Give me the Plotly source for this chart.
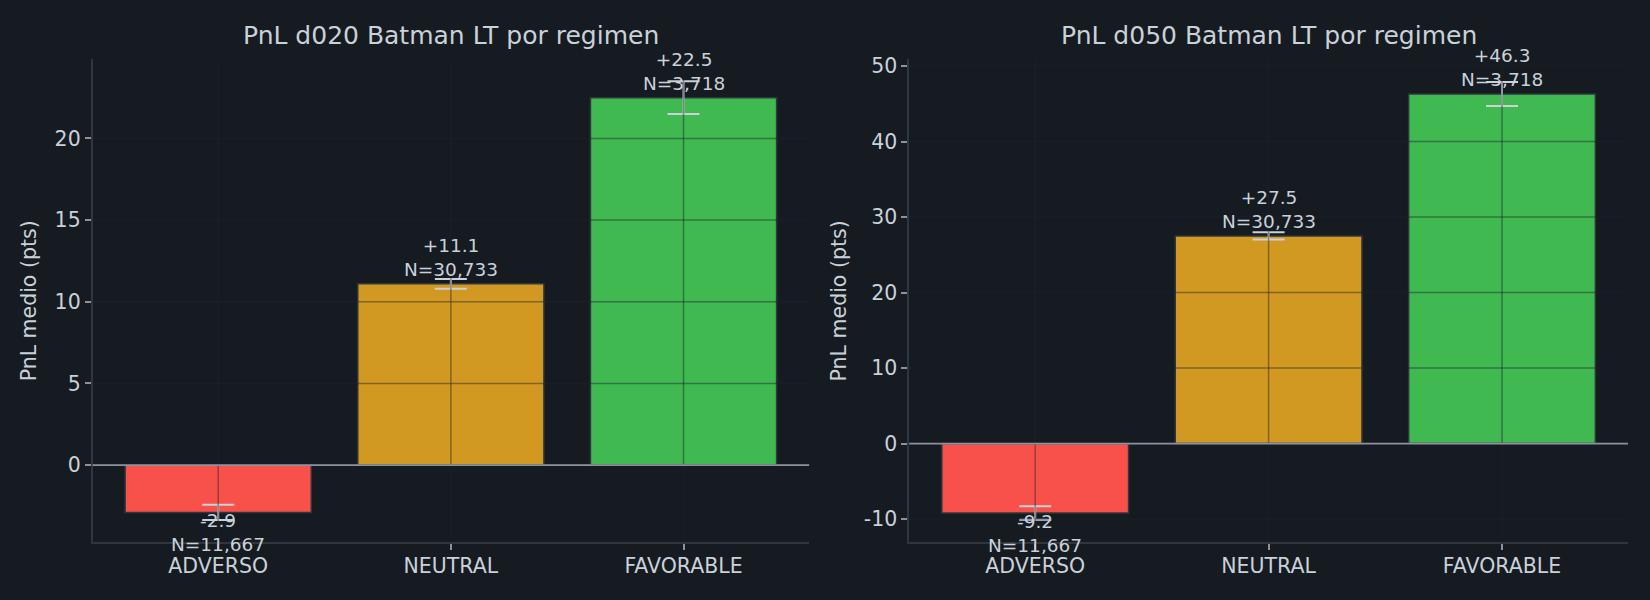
import plotly.graph_objects as go

# data
regimes = ["ADVERSO", "NEUTRAL", "FAVORABLE"]
n_trades = [11667, 30733, 3718]
pnl_d020 = [-2.9, 11.1, 22.5]
err_d020 = [0.47, 0.3, 1.0]
pnl_d050 = [-9.2, 27.5, 46.3]
err_d050 = [0.9, 0.48, 1.6]

titles = ["PnL d020 Batman LT por regimen", "PnL d050 Batman LT por regimen"]
yticks_d020 = [0, 5, 10, 15, 20]
yticks_d050 = [-10, 0, 10, 20, 30, 40, 50]

BG = "#161b22"
TXT = "#c9d1d9"
SPINE = "#30363d"
GRID = "rgba(30,35,42,0.45)"
bar_colors = ["#f85149", "#d29922", "#3fb950"]
FONT = "DejaVu Sans"

fig = go.Figure()

panels = [
    (pnl_d020, err_d020, yticks_d020, [-4.74, 24.85], [0.0561, 0.4904], "x", "y"),
    (pnl_d050, err_d050, yticks_d050, [-13.1, 50.9], [0.551, 0.9867], "x2", "y2"),
]

annotations = []
shapes = []
for i, (vals, errs, yt, yr, dom, xa, ya) in enumerate(panels):
    fig.add_trace(go.Bar(
        x=regimes, y=vals, xaxis=xa, yaxis=ya, width=0.8,
        marker=dict(color=bar_colors, line=dict(color=SPINE, width=1.5)),
        error_y=dict(type="data", array=errs, visible=True,
                     color=TXT, thickness=2, width=16),
        showlegend=False, hoverinfo="skip",
    ))
    sfx = "" if i == 0 else "2"
    fig.layout["xaxis" + sfx] = dict(
        domain=dom, anchor=ya, range=[-0.54, 2.54], type="category",
        showgrid=False, showline=True, linecolor=SPINE, linewidth=1.5,
        ticks="outside", ticklen=6, tickcolor="#8b949e", tickwidth=1.5,
        ticklabelstandoff=-2,
        tickfont=dict(family=FONT, size=20.5, color=TXT), zeroline=False,
    )
    fig.layout["yaxis" + sfx] = dict(
        domain=[0.0967, 0.9088], anchor=xa, range=yr,
        tickvals=yt, ticktext=[str(v) for v in yt],
        showgrid=False, showline=True, linecolor=SPINE, linewidth=1.5,
        ticks="outside", ticklen=6, tickcolor="#8b949e", tickwidth=1.5,
        tickfont=dict(family=FONT, size=20.5, color=TXT), zeroline=False,
        title=dict(text="PnL medio (pts)", font=dict(family=FONT, size=20.5, color=TXT), standoff=12),
    )
    # grid drawn over the bars, like the reference
    for v in yt:
        shapes.append(dict(type="line", xref=xa + " domain", yref=ya, x0=0, x1=1, y0=v, y1=v,
                           line=dict(color=GRID, width=1.5), layer="above"))
    for r in regimes:
        shapes.append(dict(type="line", xref=xa, yref=ya + " domain", x0=r, x1=r, y0=0, y1=1,
                           line=dict(color=GRID, width=1.5), layer="above"))
    shapes.append(dict(type="line", xref=xa + " domain", yref=ya, x0=0, x1=1, y0=0, y1=0,
                       line=dict(color="#8b949e", width=1.8), layer="above"))
    for r, v, n in zip(regimes, vals, n_trades):
        annotations.append(dict(
            x=r, y=v, xref=xa, yref=ya, showarrow=False,
            text=f"{v:+.1f}<br>N={n:,}", yanchor="bottom" if v >= 0 else "top",
            yshift=2 if v >= 0 else 4,
            font=dict(family=FONT, size=18.5, color=TXT),
        ))
    annotations.append(dict(
        x=0.5, y=1 - 30.5 / 600, xref=xa + " domain", yref="paper", showarrow=False,
        text=titles[i], xanchor="center", yanchor="middle",
        font=dict(family=FONT, size=25, color=TXT),
    ))

fig.update_layout(
    width=1650, height=600,
    paper_bgcolor=BG, plot_bgcolor=BG,
    margin=dict(l=0, r=0, t=0, b=0),
    annotations=annotations, shapes=shapes,
    bargap=0.2,
)

fig.write_html("out.html", config={"displayModeBar": False},
               post_script="document.body.style.margin='0';document.body.style.background='#161b22';")
